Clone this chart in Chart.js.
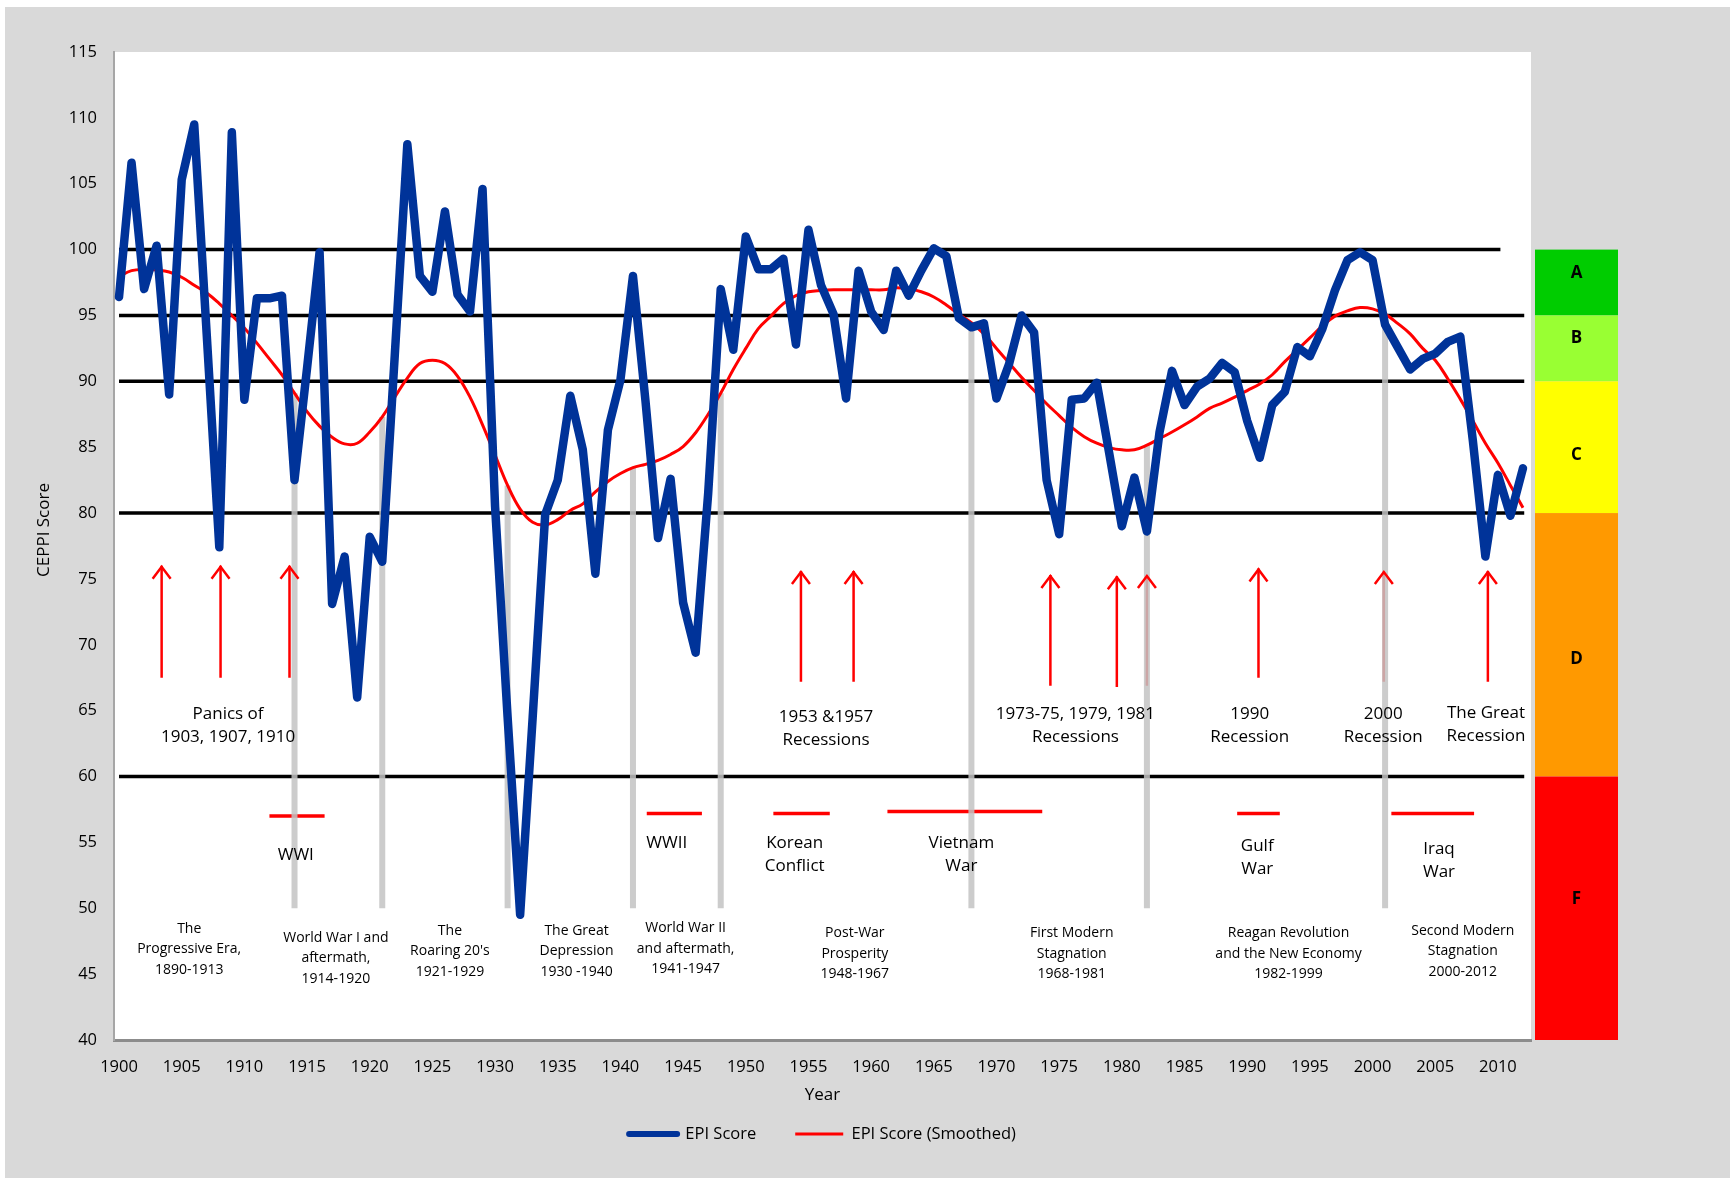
<!DOCTYPE html>
<html><head><meta charset="utf-8">
<script src="https://cdn.jsdelivr.net/npm/chart.js@4/dist/chart.umd.min.js"></script>
<style>
html,body{margin:0;padding:0;background:#ffffff;}
#wrap{position:relative;width:1730px;height:1178px;overflow:hidden;}
#bg{position:absolute;left:5px;top:7px;width:1725px;height:1171px;background:#d9d9d9;}
canvas{display:block;position:absolute;left:0;top:0;}
</style></head><body>
<div id="wrap"><div id="bg"></div><canvas id="c" width="1730" height="1178"></canvas></div>
<script>
// ---------- DATA ----------
const years = [
 1900,1901,1902,1903,1904,1905,1906,1907,1908,1909,
 1910,1911,1912,1913,1914,1915,1916,1917,1918,1919,
 1920,1921,1922,1923,1924,1925,1926,1927,1928,1929,
 1930,1931,1932,1933,1934,1935,1936,1937,1938,1939,
 1940,1941,1942,1943,1944,1945,1946,1947,1948,1949,
 1950,1951,1952,1953,1954,1955,1956,1957,1958,1959,
 1960,1961,1962,1963,1964,1965,1966,1967,1968,1969,
 1970,1971,1972,1973,1974,1975,1976,1977,1978,1979,
 1980,1981,1982,1983,1984,1985,1986,1987,1988,1989,
 1990,1991,1992,1993,1994,1995,1996,1997,1998,1999,
 2000,2001,2002,2003,2004,2005,2006,2007,2008,2009,
 2010,2011,2012];

const epiScore = [
 96.4,106.6,97.0,100.3,89.0,105.3,109.5,93.5,77.4,108.9,
 88.6,96.3,96.3,96.5,82.5,91.0,99.8,73.1,76.7,66.0,
 78.2,76.3,92.0,108.0,98.0,96.8,102.9,96.6,95.3,104.6,
 80.5,64.5,49.5,64.5,79.9,82.5,88.9,84.8,75.4,86.3,
 90.1,98.0,88.5,78.1,82.6,73.2,69.4,81.5,97.0,92.4,
 101.0,98.5,98.5,99.3,92.8,101.5,97.3,95.1,88.7,98.4,
 95.3,93.9,98.4,96.5,98.4,100.1,99.5,94.8,94.1,94.4,
 88.7,91.3,95.0,93.7,82.5,78.4,88.6,88.7,89.9,84.5,
 79.0,82.7,78.6,86.1,90.8,88.2,89.6,90.2,91.4,90.7,
 87.0,84.2,88.2,89.2,92.6,91.9,94.0,96.9,99.2,99.8,
 99.2,94.3,92.6,90.9,91.7,92.1,93.0,93.4,85.5,76.7,
 82.9,79.8,83.4];

const epiSmoothed = [
 97.96,98.4,98.5,98.45,98.3,97.9,97.3,96.7,95.9,95.0,
 94.05,92.9,91.7,90.5,89.1,87.7,86.6,85.75,85.25,85.3,
 86.15,87.3,88.8,90.25,91.35,91.6,91.35,90.4,88.8,86.7,
 84.4,82.1,80.3,79.3,79.1,79.5,80.2,80.7,81.6,82.4,
 83.0,83.45,83.7,84.0,84.45,85.05,86.1,87.5,89.1,90.9,
 92.5,94.0,94.95,95.9,96.5,96.8,96.9,96.95,96.95,96.95,
 96.95,96.95,97.1,97.0,96.8,96.4,95.8,95.1,94.45,93.6,
 92.5,91.4,90.3,89.3,88.3,87.4,86.5,85.8,85.3,84.97,
 84.8,84.8,85.15,85.65,86.15,86.7,87.3,87.95,88.35,88.8,
 89.3,89.8,90.5,91.5,92.4,93.3,94.2,94.95,95.35,95.6,
 95.5,95.1,94.4,93.6,92.5,91.6,90.2,88.65,87.0,85.3,
 83.8,82.1,80.4];

const xTickValues = [1900,1905,1910,1915,1920,1925,1930,1935,1940,1945,1950,1955,1960,1965,1970,1975,1980,1985,1990,1995,2000,2005,2010];
const yTickValues = [40,45,50,55,60,65,70,75,80,85,90,95,100,105,110,115];

// grade thresholds
const thresholdValues = [100,95,90,80,60];
const thresholdStart = 1900;
const thresholdEnds = [2010.2,2012.1,2012.1,2012.1,2012.1];

// grade band (right side)
const gradeBounds = [100,95,90,80,60,40];
const gradeLetters = ['A','B','C','D','F'];
const gradeColors = ['#00cc00','#99ff33','#ffff00','#ff9900','#ff0000'];
const gradeLabelValues = [98.2,93.3,84.4,68.9,50.7];

// era dividers (grey bars from smoothed line down to 50)
const eraDividerYears = [1914,1921,1931,1941,1948,1968,1982,2001];
const eraDividerBottom = 50;

// recession arrows
const arrowYears   = [1903.4,1908.1,1913.6,1954.4,1958.6,1974.3,1979.6,1982.0,1990.9,2000.9,2009.2];
const arrowTops    = [76.0,76.0,76.0,75.6,75.6,75.3,75.2,75.3,75.8,75.6,75.6];
const arrowBottoms = [67.5,67.5,67.5,67.2,67.2,66.9,66.8,66.9,67.5,67.2,67.2];

// war periods (red horizontal bars)
const warStarts = [1912.0,1942.1,1952.2,1961.3,1989.2,2001.5];
const warEnds   = [1916.4,1946.5,1956.7,1973.65,1992.6,2008.1];
const warLevels = [57.0,57.2,57.2,57.35,57.2,57.2];

// text annotations: [year, value of first line, lines]
const recessionLabels = [
  [1908.7, 64.7, ['Panics of','1903, 1907, 1910']],
  [1956.4, 64.5, ['1953 &1957','Recessions']],
  [1976.3, 64.75,['1973-75, 1979, 1981','Recessions']],
  [1990.2, 64.75,['1990','Recession']],
  [2000.85,64.75,['2000','Recession']],
  [2009.05,64.8, ['The Great','Recession']]
];
const warLabels = [
  [1914.1, 54.05,['WWI']],
  [1943.7, 54.95,['WWII']],
  [1953.9, 54.95,['Korean','Conflict']],
  [1967.2, 54.95,['Vietnam','War']],
  [1990.8, 54.7, ['Gulf','War']],
  [2005.3, 54.45,['Iraq','War']]
];
const eraLabels = [
  [1905.6, 48.45,['The','Progressive Era,','1890-1913']],
  [1917.3, 47.75,['World War I and','aftermath,','1914-1920']],
  [1926.4, 48.3, ['The','Roaring 20\'s','1921-1929']],
  [1936.5, 48.3, ['The Great','Depression','1930 -1940']],
  [1945.2, 48.5, ['World War II','and aftermath,','1941-1947']],
  [1958.7, 48.1, ['Post-War','Prosperity','1948-1967']],
  [1976.0, 48.1, ['First Modern','Stagnation','1968-1981']],
  [1993.3, 48.1, ['Reagan Revolution','and the New Economy','1982-1999']],
  [2007.2, 48.3, ['Second Modern','Stagnation','2000-2012']]
];
const yAxisTitle = 'CEPPI Score';

// ---------- BUILD ----------
const FONT = '"Open Sans", "Liberation Sans", sans-serif';
const pairs = (xs, ys) => xs.map((x, i) => ({x, y: ys[i]}));
const segments = list => {
  const out = [];
  list.forEach(([x1, y1, x2, y2]) => { out.push({x:x1,y:y1},{x:x2,y:y2},{x:x2,y:null}); });
  return out;
};
const smoothedAt = yr => epiSmoothed[years.indexOf(yr)];

const thresholdSegs = segments(thresholdValues.map((v,i)=>[thresholdStart, v, thresholdEnds[i], v]));
const dividerSegs = segments(eraDividerYears.map(yr=>[yr, smoothedAt(yr), yr, eraDividerBottom]));
const arrowSegs = segments(arrowYears.map((yr,i)=>[yr, arrowBottoms[i], yr, arrowTops[i]]));
const warSegs = segments(warStarts.map((s,i)=>[s, warLevels[i], warEnds[i], warLevels[i]]));

const plotBg = {
  id: 'plotBg',
  beforeDraw(chart) {
    const {ctx, chartArea: a} = chart;
    ctx.save(); ctx.fillStyle = '#ffffff';
    ctx.fillRect(a.left, a.top, a.right - a.left, a.bottom - a.top);
    ctx.restore();
  }
};

const decorations = {
  id: 'decorations',
  afterDatasetsDraw(chart) {
    const {ctx, scales: {x, y}} = chart;
    ctx.save();
    // arrowheads
    ctx.strokeStyle = '#ff0000'; ctx.lineWidth = 2.5; ctx.lineJoin = 'miter'; ctx.lineCap = 'butt';
    arrowYears.forEach((yr, i) => {
      const px = x.getPixelForValue(yr), py = y.getPixelForValue(arrowTops[i]);
      ctx.beginPath(); ctx.moveTo(px - 9, py + 13); ctx.lineTo(px, py + 1); ctx.lineTo(px + 9, py + 13); ctx.stroke();
    });
    // texts
    ctx.fillStyle = '#000'; ctx.textAlign = 'center'; ctx.textBaseline = 'middle';
    const drawGroup = (list, size, lh) => {
      ctx.font = size + 'px ' + FONT;
      list.forEach(([yr, v, lines]) => {
        const px = x.getPixelForValue(yr), py = y.getPixelForValue(v);
        lines.forEach((t, k) => ctx.fillText(t, px, py + k * lh));
      });
    };
    drawGroup(recessionLabels, 17, 23);
    drawGroup(warLabels, 17, 23);
    drawGroup(eraLabels, 14, 20.5);
    ctx.restore();
  },
  afterDraw(chart) {
    const {ctx, chartArea: a, scales: {y}} = chart;
    ctx.save();
    const x0 = a.right + 4, w = 83;
    gradeLetters.forEach((g, i) => {
      const top = y.getPixelForValue(gradeBounds[i]), bot = y.getPixelForValue(gradeBounds[i+1]);
      ctx.fillStyle = gradeColors[i];
      ctx.fillRect(x0, top, w, bot - top);
    });
    ctx.fillStyle = '#000'; ctx.font = 'bold 17px ' + FONT; ctx.textAlign = 'center'; ctx.textBaseline = 'middle';
    gradeLetters.forEach((g, i) => ctx.fillText(g, x0 + w / 2, y.getPixelForValue(gradeLabelValues[i])));
    // y axis title (placed slightly above the axis middle, as in the original)
    ctx.save();
    ctx.translate(y.left + 44, a.top + 478);
    ctx.rotate(-Math.PI / 2);
    ctx.font = '17px ' + FONT;
    ctx.fillText(yAxisTitle, 0, 0);
    ctx.restore();
    ctx.restore();
  }
};

const chart = new Chart(document.getElementById('c'), {
  type: 'line',
  data: {
    datasets: [
      { label: 'EPI Score', data: pairs(years, epiScore), borderColor: '#003399', backgroundColor: '#003399',
        borderWidth: 8.5, pointRadius: 0, borderJoinStyle: 'round', borderCapStyle: 'round', tension: 0 },
      { label: 'EPI Score (Smoothed)', data: pairs(years, epiSmoothed), borderColor: '#ff0000', backgroundColor: '#ff0000',
        borderWidth: 3, pointRadius: 0, tension: 0.4 },
      { label: 'dividers', data: dividerSegs, borderColor: 'rgba(195,195,195,0.85)', borderWidth: 6, pointRadius: 0, spanGaps: false, borderCapStyle: 'butt' },
      { label: 'arrows', data: arrowSegs, borderColor: '#ff0000', borderWidth: 2.5, pointRadius: 0, spanGaps: false },
      { label: 'wars', data: warSegs, borderColor: '#ff0000', borderWidth: 3.5, pointRadius: 0, spanGaps: false },
      { label: 'thresholds', data: thresholdSegs, borderColor: '#000000', borderWidth: 3.5, pointRadius: 0, spanGaps: false }
    ]
  },
  options: {
    responsive: false, animation: false, devicePixelRatio: 1,
    layout: { padding: { left: 0, top: 52, right: 199, bottom: 25.75 } },
    plugins: {
      tooltip: { enabled: false },
      legend: {
        position: 'bottom', fullSize: false, align: 'center',
        labels: {
          usePointStyle: true, pointStyleWidth: 48, boxWidth: 48, boxHeight: 16.5, padding: 39,
          color: '#000', font: { family: FONT, size: 16.5 },
          filter: item => item.datasetIndex < 2,
          generateLabels(c) {
            const items = Chart.defaults.plugins.legend.labels.generateLabels(c);
            items.forEach(it => {
              it.pointStyle = 'line';
              if (it.datasetIndex === 0) { it.lineWidth = 6; it.lineCap = 'round'; }
              if (it.datasetIndex === 1) { it.lineWidth = 3; }
            });
            return items;
          }
        }
      }
    },
    scales: {
      x: {
        type: 'linear', min: 1899.6, max: 2012.64,
        afterBuildTicks: a => { a.ticks = xTickValues.map(v => ({value: v})); },
        afterFit: a => { a.height = 46.75; },
        ticks: { callback: v => String(v), color: '#000', font: { family: FONT, size: 16.5 }, padding: 17, maxRotation: 0, autoSkip: false },
        grid: { display: false, drawTicks: false },
        border: { display: true, color: '#8c8c8c', width: 3 },
        title: { display: true, text: 'Year', color: '#000', font: { family: FONT, size: 17 }, padding: { top: 0, bottom: -19 } }
      },
      y: {
        type: 'linear', min: 40, max: 115,
        afterBuildTicks: a => { a.ticks = yTickValues.map(v => ({value: v})); },
        afterFit: a => { a.width = 114; },
        ticks: { callback: v => String(v), color: '#000', font: { family: FONT, size: 16.5 }, padding: 17 },
        grid: { display: false, drawTicks: false },
        border: { display: true, color: '#a6a6a6', width: 2 },
        title: { display: false }
      }
    }
  },
  plugins: [plotBg, decorations]
});
</script>
</body></html>
